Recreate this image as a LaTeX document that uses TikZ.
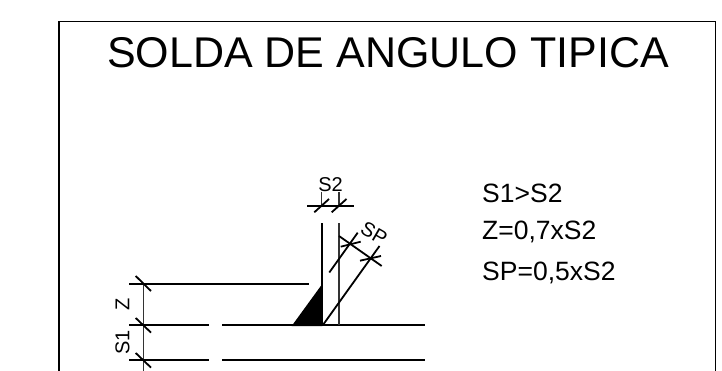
\documentclass[tikz,border=0pt]{standalone}
\usepackage{fontspec}
\setmainfont{Liberation Sans}
\tikzset{
  ln/.style={line width=1.8pt,draw=black},
  thin ln/.style={line width=1.5pt,draw=black!80},
  lbl/.style={inner sep=0pt,anchor=base west,font=\fontsize{26.5}{26.5}\selectfont},
  dimlbl/.style={inner sep=0pt,font=\fontsize{20}{20}\selectfont},
}
\begin{document}
\begin{tikzpicture}[x=1pt,y=-1pt]
\useasboundingbox (0,0) rectangle (722,371);
% frame
\coordinate (fbl) at (59,380);
\coordinate (ftl) at (59,21.5);
\coordinate (ftr) at (715.5,21.5);
\coordinate (fbr) at (715.5,380);
\begin{scope}
\clip (0,0) rectangle (722,371);
\draw[ln] (fbl) -- (ftl) -- (ftr) -- (fbr);
\end{scope}
\node[inner sep=0pt,anchor=base,font=\fontsize{43}{43}\selectfont] (title) at (388,68) {SOLDA DE ANGULO TIPICA};
\node[lbl] (t1) at (482,202.3) {S1>S2};
\node[lbl] (t2) at (482,239.3) {Z=0,7xS2};
\node[lbl] (t3) at (482,280) {SP=0,5xS2};
% plates
\draw[ln] (129,283.7) coordinate (a1) -- (309,283.7) coordinate (a2);
\draw[ln] (129,325.3) coordinate (b1) -- (209,325.3) coordinate (b2);
\draw[ln] (222,325.3) coordinate (b3) -- (425,325.3) coordinate (b4);
\draw[ln] (129,360.3) coordinate (c1) -- (209,360.3) coordinate (c2);
\draw[ln] (222,360.3) coordinate (c3) -- (425,360.3) coordinate (c4);
% vertical plate
\draw[ln] (321.7,223.3) coordinate (v1) -- (321.7,325.3) coordinate (v1b);
\draw[thin ln] (339,223.3) coordinate (v2) -- (339,325.3) coordinate (v2b);
% weld
\fill[black] (291.7,326) coordinate (w1) -- (322.3,326) coordinate (w2) -- (322.3,283.9) coordinate (w3) -- cycle;
% left dimension
\coordinate (d1) at (143.3,283.7);
\begin{scope}
\clip (0,0) rectangle (722,371);
\draw[thin ln] (d1) -- (143.3,375);
\draw[ln] (135.7,276) -- (151,291);
\draw[ln] (135.7,318) -- (151,332.6);
\draw[ln] (135.7,353) -- (151,367.6);
\end{scope}
\node[dimlbl,rotate=90,anchor=base] (z) at (129.3,304) {Z};
\node[dimlbl,rotate=90,anchor=base] (s1) at (129.3,342.5) {S1};
% S2 dimension
\coordinate (e1) at (321.7,205.7);
\coordinate (e2) at (339,205.7);
\draw[ln] (307,205.7) -- (354,205.7);
\draw[thin ln] (321.7,192) -- (e1);
\draw[thin ln] (339,192) -- (e2);
\draw[ln] (314.3,212.3) -- (329,199);
\draw[ln] (331.7,212.3) -- (346.5,199);
\node[dimlbl,anchor=base] (s2) at (330.5,191.7) {S2};
% SP dimension
\draw[ln] (339,236) -- (381.7,266);
\draw[ln] (322.7,325.3) -- (379.5,246);
\draw[ln] (329.3,272.5) -- (357.7,232.7);
\draw[ln] (340.7,246.7) -- (360.7,241.7);
\draw[ln] (360,260.7) -- (381,256);
\node[dimlbl,rotate=-30,anchor=center] (sp) at (374,233.5) {SP};
\end{tikzpicture}
\end{document}
